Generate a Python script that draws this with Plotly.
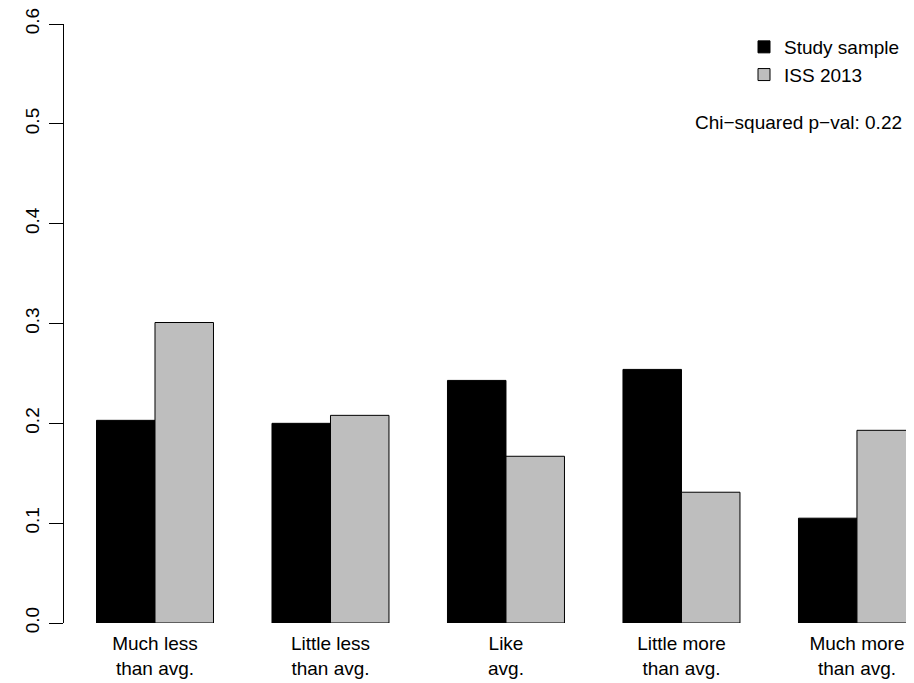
import plotly.graph_objects as go

categories = ["Much less<br>than avg.", "Little less<br>than avg.", "Like<br>avg.",
              "Little more<br>than avg.", "Much more<br>than avg."]
study_sample = [0.203, 0.200, 0.243, 0.254, 0.105]
iss_2013 = [0.301, 0.208, 0.167, 0.131, 0.193]
y_ticks = [0.0, 0.1, 0.2, 0.3, 0.4, 0.5, 0.6]
annotation_text = "Chi\u2212squared p\u2212val: 0.22"

# page body has an 8px default margin -> shrink the figure accordingly
OFF = 8
W, H = 914 - OFF, 683 - OFF
L, R, T, B = 64 - OFF, 0, 24 - OFF, 60.3
pw, ph = W - L - R, H - T - B

def px2x(px):  # px in screen (reference) coordinates
    return (px - OFF - L) / pw

def px2y(py):
    return (H - B - (py - OFF)) / ph

FONT = "Liberation Sans, Arial, Helvetica, sans-serif"

fig = go.Figure()
fig.add_trace(go.Bar(x=categories, y=study_sample, name="Study sample",
                     marker=dict(color="#000000", line=dict(color="#000000", width=1))))
fig.add_trace(go.Bar(x=categories, y=iss_2013, name="ISS 2013",
                     marker=dict(color="#BEBEBE", line=dict(color="#000000", width=1))))

fig.update_layout(
    width=W, height=H,
    margin=dict(l=L, r=R, t=T, b=B, pad=0),
    paper_bgcolor="white", plot_bgcolor="white",
    font=dict(family=FONT, size=19, color="black"),
    barmode="group", bargap=1/3, bargroupgap=0,
    showlegend=True,
    legend=dict(x=px2x(744), y=px2y(28), xanchor="left", yanchor="top",
                bgcolor="rgba(0,0,0,0)", borderwidth=0,
                font=dict(family=FONT, size=19, color="black"),
                itemwidth=30, tracegroupgap=0),
    xaxis=dict(type="category", range=[-0.5185, 4.325], showline=False,
               ticks="", showgrid=False, zeroline=False, ticklabelstandoff=7,
               tickfont=dict(family=FONT, size=19, color="black")),
    yaxis=dict(range=[0, 0.6], tickvals=y_ticks, tickformat=".1f",
               showline=True, linecolor="black", linewidth=1,
               ticks="outside", ticklen=14, tickwidth=1, tickcolor="black",
               tickangle=-90, showgrid=False, zeroline=False, ticklabelstandoff=2,
               ticklabeloverflow="allow",
               tickfont=dict(family=FONT, size=19, color="black")),
    annotations=[dict(text=annotation_text, xref="paper", yref="paper",
                      x=px2x(904), y=px2y(122), xanchor="right", yanchor="middle",
                      showarrow=False,
                      font=dict(family=FONT, size=19, color="black"))],
)

fig.write_html("out.html")
